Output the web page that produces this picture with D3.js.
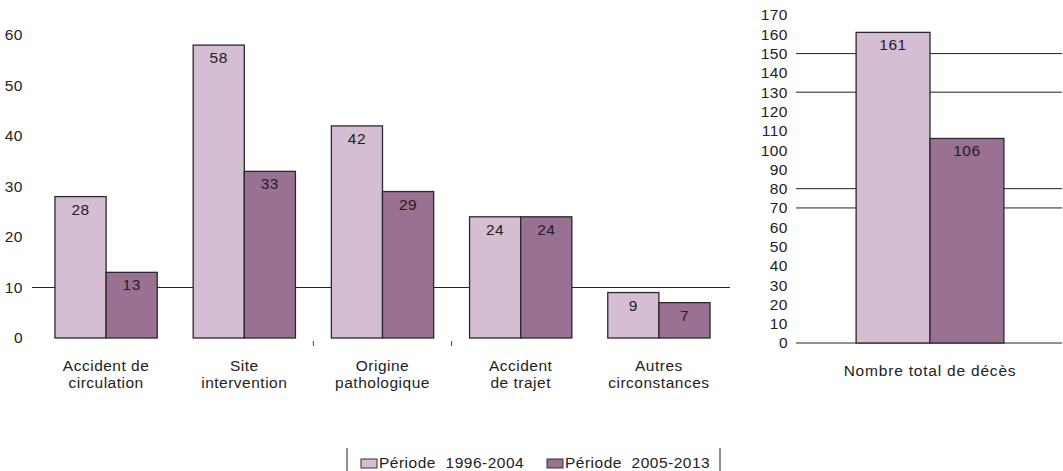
<!DOCTYPE html>
<html>
<head>
<meta charset="utf-8">
<script src="https://cdn.jsdelivr.net/npm/d3@7"></script>
<style>
  body { margin: 0; background: #fff; }
  svg { display: block; font-family: "Liberation Sans", Arial, sans-serif; }
  svg text { letter-spacing: 0.5px; }
</style>
</head>
<body>
<div id="viz-container"></div>
<script>
// categories (left panel)
let categories = ['Accident de\ncirculation', 'Site\nintervention', 'Origine\npathologique', 'Accident\nde trajet', 'Autres\ncirconstances'];
let periods = ['Période  1996-2004', 'Période  2005-2013'];
let p1 = [28, 58, 42, 24, 9];
let p2 = [13, 33, 29, 24, 7];
let leftTicks = [0, 10, 20, 30, 40, 50, 60];
let leftGrid = [10];

// right panel
let totalCat = ['Nombre total de décès'];
let totals = [161, 106];
let rightTicks = d3.range(0, 171, 10);
let rightGrid = [0, 70, 80, 130, 150];

//colors
let pc = ['#d5bdd4', '#9a7093'];
let fs = 15.5;

let svg = d3.select('#viz-container')
  .append('svg')
    .attr('width', 1063)
    .attr('height', 471);

// ---- left panel
let x0 = d3.scaleBand().domain(categories).range([37, 728]).paddingInner(0.26).paddingOuter(0.13);
let x1 = d3.scaleBand().domain([0, 1]).range([0, x0.bandwidth()]);
let yL = d3.scaleLinear().domain([0, 60]).range([338, 35]);

let left = svg.append('g');

left.selectAll('.grid').data(leftGrid).enter()
  .append('line')
    .attr('x1', 32).attr('x2', 730)
    .attr('y1', d => yL(d)).attr('y2', d => yL(d))
    .attr('stroke', '#222').attr('stroke-width', 1);

left.append('g')
  .attr('transform', 'translate(29,0)')
  .call(d3.axisLeft(yL).tickValues(leftTicks).tickSize(0).tickPadding(6))
  .call(g => g.select('.domain').remove())
  .selectAll('text')
    .attr('font-size', fs).attr('fill', '#222').attr('font-family', 'Liberation Sans, Arial, sans-serif');

let groups = left.selectAll('.grp').data(categories).enter()
  .append('g')
    .attr('transform', d => 'translate(' + x0(d) + ',0)');

groups.each(function(c, i) {
  let vals = [p1[i], p2[i]];
  let g = d3.select(this);
  g.selectAll('rect').data(vals).enter()
    .append('rect')
      .attr('x', (d, j) => x1(j))
      .attr('y', d => yL(d))
      .attr('width', x1.bandwidth())
      .attr('height', d => yL(0) - yL(d))
      .attr('fill', (d, j) => pc[j])
      .attr('stroke', '#2a2a2a').attr('stroke-width', 1.3);
  g.selectAll('.val').data(vals).enter()
    .append('text')
      .attr('x', (d, j) => x1(j) + x1.bandwidth() / 2)
      .attr('y', d => yL(d) + 18)
      .attr('text-anchor', 'middle')
      .attr('font-size', fs).attr('fill', '#222')
      .text(d => d);
});

// category labels
left.selectAll('.cat').data(categories).enter()
  .append('text')
    .attr('x', d => x0(d) + x0.bandwidth() / 2)
    .attr('y', 371)
    .attr('text-anchor', 'middle')
    .attr('font-size', fs).attr('fill', '#222')
    .each(function(d) {
      let lines = d.split('\n');
      d3.select(this).selectAll('tspan').data(lines).enter()
        .append('tspan')
          .attr('x', x0(d) + x0.bandwidth() / 2)
          .attr('dy', (l, k) => k === 0 ? 0 : 17)
          .text(l => l);
    });

// small stray ticks between groups
[1, 2].forEach(function(k) {
  let xm = (x0(categories[k]) + x0.bandwidth() + x0(categories[k + 1])) / 2;
  left.append('line').attr('x1', xm).attr('x2', xm).attr('y1', 341).attr('y2', 346)
    .attr('stroke', '#444');
});

// ---- right panel
let xR = d3.scaleBand().domain(totalCat).range([797, 1063]).paddingInner(0).paddingOuter(0.4);
let xR1 = d3.scaleBand().domain([0, 1]).range([0, xR.bandwidth()]);
let yR = d3.scaleLinear().domain([0, 170]).range([343, 15]);

let right = svg.append('g');

right.selectAll('.grid').data(rightGrid).enter()
  .append('line')
    .attr('x1', 796).attr('x2', 1062)
    .attr('y1', d => yR(d)).attr('y2', d => yR(d))
    .attr('stroke', '#222').attr('stroke-width', 1);

right.append('g')
  .attr('transform', 'translate(794,0)')
  .call(d3.axisLeft(yR).tickValues(rightTicks).tickSize(0).tickPadding(6))
  .call(g => g.select('.domain').remove())
  .selectAll('text')
    .attr('font-size', fs).attr('fill', '#222').attr('font-family', 'Liberation Sans, Arial, sans-serif');

right.selectAll('.bar').data(totals).enter()
  .append('rect')
    .attr('x', (d, j) => xR(totalCat[0]) + xR1(j))
    .attr('y', d => yR(d))
    .attr('width', xR1.bandwidth())
    .attr('height', d => yR(0) - yR(d))
    .attr('fill', (d, j) => pc[j])
    .attr('stroke', '#2a2a2a').attr('stroke-width', 1.3);

right.selectAll('.val').data(totals).enter()
  .append('text')
    .attr('x', (d, j) => xR(totalCat[0]) + xR1(j) + xR1.bandwidth() / 2)
    .attr('y', d => yR(d) + 18)
    .attr('text-anchor', 'middle')
    .attr('font-size', fs).attr('fill', '#222')
    .text(d => d);

right.append('text')
  .attr('x', xR(totalCat[0]) + xR.bandwidth() / 2)
  .attr('y', 376)
  .attr('text-anchor', 'middle')
  .attr('font-size', fs).attr('fill', '#222')
  .style('letter-spacing', '0.8px')
  .text(totalCat[0]);

// ---- legend
let legend = svg.append('g');
legend.append('line').attr('x1', 347).attr('x2', 347).attr('y1', 448).attr('y2', 471).attr('stroke', '#222');
legend.append('line').attr('x1', 720).attr('x2', 720).attr('y1', 448).attr('y2', 471).attr('stroke', '#222');
let lx = [361, 547];
periods.forEach(function(p, i) {
  legend.append('rect')
    .attr('x', lx[i]).attr('y', 459).attr('width', 16).attr('height', 9)
    .attr('fill', pc[i]).attr('stroke', '#333');
  legend.append('text')
    .attr('x', lx[i] + 18).attr('y', 468)
    .attr('font-size', fs).attr('fill', '#222')
    .style('white-space', 'pre')
    .text(p);
});
</script>
</body>
</html>
